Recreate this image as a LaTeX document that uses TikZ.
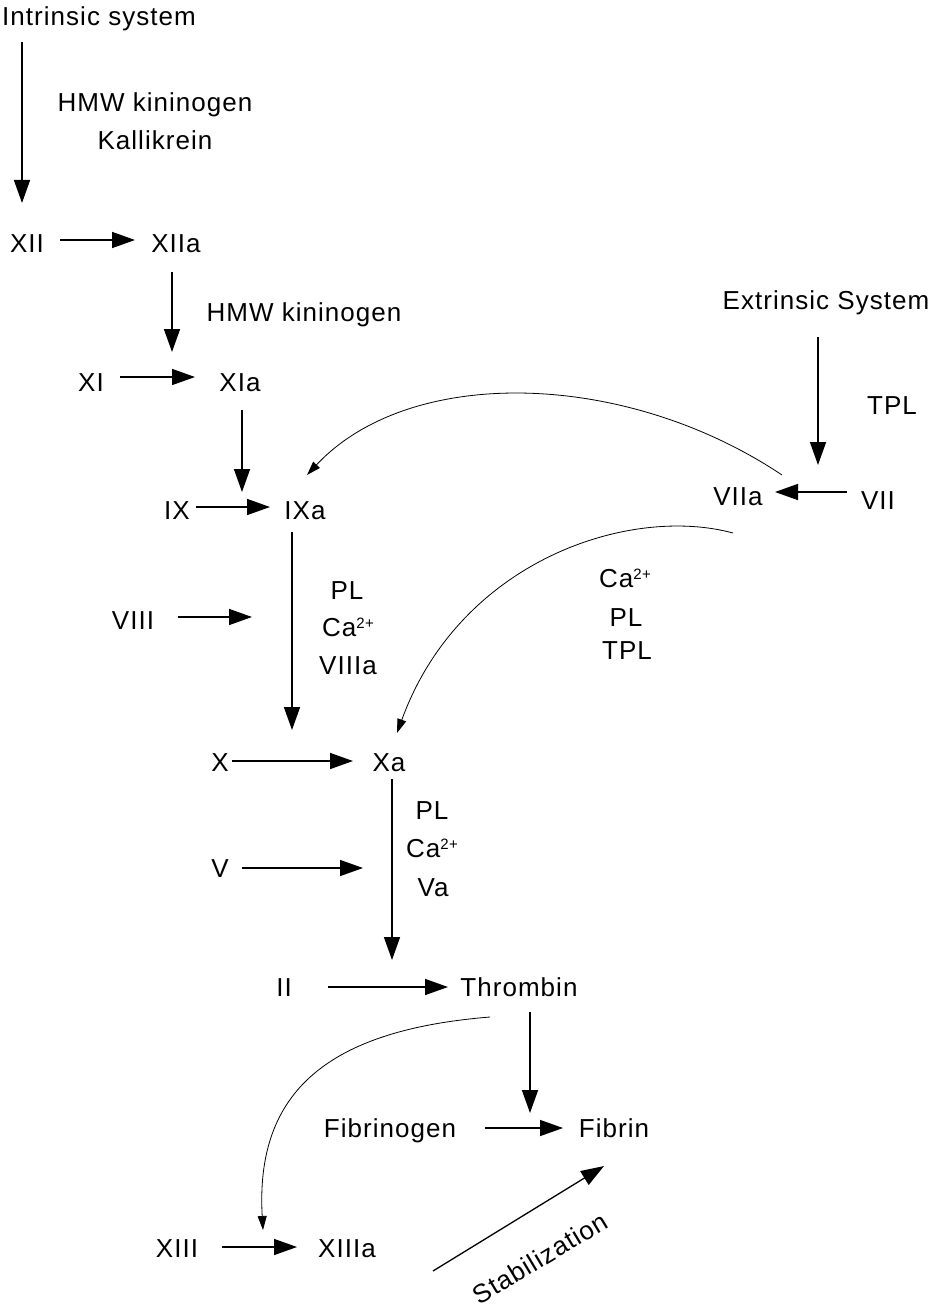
\documentclass[tikz,border=0pt]{standalone}
\usepackage{fontspec}
\setmainfont{Liberation Sans}[LetterSpace=4]
\usetikzlibrary{arrows.meta,calc}
\newcommand{\catwo}{Ca{\fontsize{15}{15}\selectfont\raisebox{8pt}{2+}}}
\begin{document}
\begin{tikzpicture}[x=1pt,y=-1pt,
  lbl/.style={inner sep=0pt, text height=18.6pt, text depth=0pt, font=\fontsize{26}{31}\selectfont},
  arr/.style={line width=1.5pt, -{Triangle[length=23pt,width=16pt]}},
  carr/.style={line width=0.8pt, -{Triangle[length=14pt,width=9pt]}}]
\useasboundingbox[fill=white] (0,0) rectangle (930,1308);
% nodes
\node[lbl] (intr) at (99,16) {Intrinsic system};
\node[lbl] (hmw1) at (155,102) {HMW kininogen};
\node[lbl] (kal) at (155,140) {Kallikrein};
\node[lbl] (xii) at (27,243) {XII};
\node[lbl] (xiia) at (176,243) {XIIa};
\node[lbl] (hmw2) at (304,312) {HMW kininogen};
\node[lbl] (xi) at (91,382) {XI};
\node[lbl] (xia) at (240,382) {XIa};
\node[lbl] (ix) at (177,510) {IX};
\node[lbl] (ixa) at (305,510) {IXa};
\node[lbl] (ext) at (826,300) {Extrinsic System};
\node[lbl] (tpl1) at (892,405) {TPL};
\node[lbl] (viia) at (738,496) {VIIa};
\node[lbl] (vii) at (878,500) {VII};
\node[lbl] (viii) at (133,620) {VIII};
\node[lbl] (pl1) at (347,590) {PL};
\node[lbl] (ca1) at (348,627) {\catwo};
\node[lbl] (viiia) at (348,665) {VIIIa};
\node[lbl] (ca3) at (625,578) {\catwo};
\node[lbl] (pl3) at (626,617) {PL};
\node[lbl] (tpl2) at (627,650) {TPL};
\node[lbl] (x) at (220,762) {X};
\node[lbl] (xa) at (389,762) {Xa};
\node[lbl] (pl2) at (432,810) {PL};
\node[lbl] (ca2) at (432,848) {\catwo};
\node[lbl] (va) at (433,887) {Va};
\node[lbl] (v) at (220,868) {V};
\node[lbl] (ii) at (284,987) {II};
\node[lbl] (thr) at (519,987) {Thrombin};
\node[lbl] (fbg) at (390,1128) {Fibrinogen};
\node[lbl] (fib) at (614,1128) {Fibrin};
\node[lbl] (xiii) at (177,1248) {XIII};
\node[lbl] (xiiia) at (347,1248) {XIIIa};
\node[lbl, rotate=31] (stab) at (540,1258) {Stabilization};
\coordinate (viiiend) at ($(viii)+(119,-3)$);
\coordinate (vend) at ($(v)+(143,0)$);
% straight arrows
\draw[arr] ($(intr)+(-77,26)$) -- ($(xii)+(-5,-40)$);
\draw[arr] ($(xii)+(33,-3)$) -- ($(xiia)+(-41,-3)$);
\draw[arr] ($(xiia)+(-4,29)$) -- ($(xia)+(-68,-30)$);
\draw[arr] ($(xi)+(29,-5)$) -- ($(xia)+(-45,-5)$);
\draw[arr] ($(xia)+(2,28)$) -- ($(ixa)+(-63,-18)$);
\draw[arr] ($(ix)+(19,-3)$) -- ($(ixa)+(-35,-3)$);
\draw[arr] ($(ixa)+(-13,22)$) -- ($(xa)+(-97,-32)$);
\draw[arr] ($(ext)+(-8,37)$) -- ($(viia)+(80,-31)$);
\draw[arr] ($(vii)+(-31,-8)$) -- ($(viia)+(37,-4)$);
\draw[arr] ($(viii)+(45,-3)$) -- (viiiend);
\draw[arr] ($(x)+(12,-1)$) -- ($(xa)+(-36,-1)$);
\draw[arr] ($(xa)+(3,17)$) -- ($(thr)+(-127,-27)$);
\draw[arr] ($(v)+(22,0)$) -- (vend);
\draw[arr] ($(ii)+(44,0)$) -- ($(thr)+(-71,0)$);
\draw[arr] ($(thr)+(11,25)$) -- ($(fib)+(-84,-15)$);
\draw[arr] ($(fbg)+(95,0)$) -- ($(fib)+(-51,0)$);
\draw[arr] ($(xiii)+(45,-1)$) -- ($(xiiia)+(-50,-1)$);
\draw[arr, line width=1.3pt] ($(xiiia)+(86,23)$) -- ($(fib)+(-10,38)$);
% curved arrows
\draw[carr] ($(viia)+(44,-21)$) .. controls +(-157,-105) and +(103,-110) .. ($(ixa)+(2,-35)$);
\draw[carr] ($(viia)+(-5,37)$) .. controls +(-103,-28) and +(63,-173) .. ($(xa)+(8,-29)$);
\draw[carr] ($(thr)+(-29,30)$) .. controls +(-160,13) and +(-8,-140) .. ($(xiiia)+(-84,-18)$);
\end{tikzpicture}
\end{document}
